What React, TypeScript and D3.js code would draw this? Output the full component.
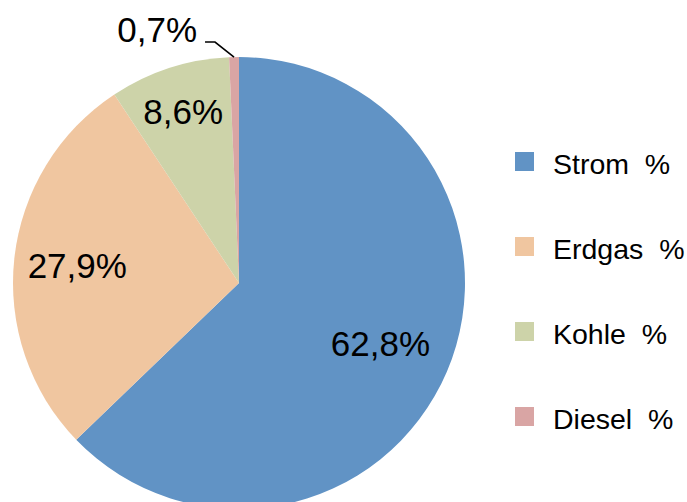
import React from "react";
import * as d3 from "d3";

// energy source shares (percent)
const categories = ["Strom", "Erdgas", "Kohle", "Diesel"];
const values = [62.8, 27.9, 8.6, 0.7];
const valueLabels = ["62,8%", "27,9%", "8,6%", "0,7%"];
const legendLabels = ["Strom  %", "Erdgas  %", "Kohle  %", "Diesel  %"];
const colors = ["#6193C5", "#F0C6A0", "#CDD3A9", "#D9A5A4"];

const width = 687;
const height = 502;
const cx = 239;
const cy = 283;
const radius = 226;

// how far from the centre each inside label sits (fraction of radius)
const labelRadius = [0.68, 0.72, 0.8];

const App = () => {
    const data = categories.map((c, i) => ({ name: c, value: values[i], label: valueLabels[i] }));

    const pie = d3.pie<any>()
        .sort(null)
        .value(d => d.value);
    const arcs = pie(data);

    const arc = d3.arc<any>().innerRadius(0).outerRadius(radius);

    const color = d3.scaleOrdinal<string>().domain(categories).range(colors);

    const legendY = d3.scalePoint()
        .domain(categories)
        .range([152, 407]);

    const font = "'Liberation Sans', Arial, sans-serif";

    // leader line for the tiny slice
    const last = arcs[arcs.length - 1];
    const mid = (last.startAngle + last.endAngle) / 2;
    const edge = [Math.sin(mid) * radius, -Math.cos(mid) * radius];
    const elbow = [edge[0] - 19, edge[1] - 15];
    const tail = [elbow[0] - 10, elbow[1]];

    return (
        <svg width={width} height={height} style={{ position: "absolute", left: 0, top: 0, background: "#fff" }}>
            <g transform={`translate(${cx},${cy})`}>
                {arcs.map((a, i) => (
                    <path key={i} d={arc(a) || ""} fill={color(a.data.name)} />
                ))}
                {arcs.slice(0, 3).map((a, i) => {
                    const r = radius * labelRadius[i];
                    const [x, y] = d3.arc<any>().innerRadius(r).outerRadius(r).centroid(a);
                    return (
                        <text key={i} x={x} y={y + 13} textAnchor="middle"
                            fontFamily={font} fontSize={35} fill="#000">
                            {a.data.label}
                        </text>
                    );
                })}
                <polyline
                    points={[edge, elbow, tail].map(p => p.join(",")).join(" ")}
                    fill="none" stroke="#000" strokeWidth={1.6} />
                <text x={tail[0] - 8} y={tail[1]} textAnchor="end"
                    fontFamily={font} fontSize={35} fill="#000">
                    {last.data.label}
                </text>
            </g>
            <g>
                {categories.map((c, i) => (
                    <g key={c} transform={`translate(515,${legendY(c)})`}>
                        <rect width={19} height={19} fill={color(c)} />
                        <text x={38} y={21.5} fontFamily={font} fontSize={28.5}
                            fill="#000" style={{ whiteSpace: "pre" }}>
                            {legendLabels[i]}
                        </text>
                    </g>
                ))}
            </g>
        </svg>
    );
};

export default App;
